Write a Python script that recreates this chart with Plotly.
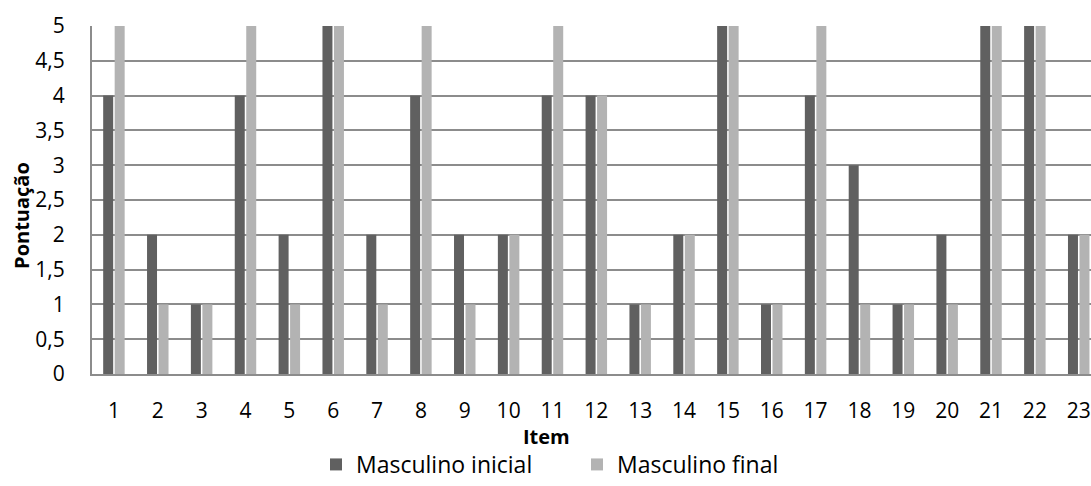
import plotly.graph_objects as go

# Item scores, male group, start vs end
items = [str(i) for i in range(1, 24)]
masculino_inicial = [4, 2, 1, 4, 2, 5, 2, 4, 2, 2, 4, 4, 1, 2, 5, 1, 4, 3, 1, 2, 5, 5, 2]
masculino_final = [5, 1, 1, 5, 1, 5, 1, 5, 1, 2, 5, 4, 1, 2, 5, 1, 5, 1, 1, 1, 5, 5, 2]
y_ticks = [0, 0.5, 1, 1.5, 2, 2.5, 3, 3.5, 4, 4.5, 5]
y_tick_text = ["0", "0,5", "1", "1,5", "2", "2,5", "3", "3,5", "4", "4,5", "5"]

FONT = "'Open Sans', Lato, sans-serif"
FS = 21
GRID = "#8c8c8c"

# plot-area geometry in pixels
W, H = 1091, 486
L, T, B = 92, 26, 110
PW, PH = W - L, H - T - B


def px_x(x):
    return (x - L) / PW


def px_y(y):
    return (H - B - y) / PH


fig = go.Figure()
fig.add_trace(go.Bar(x=items, y=masculino_inicial, name="Masculino inicial",
                     marker=dict(color="#606060", line=dict(width=0))))
fig.add_trace(go.Bar(x=items, y=masculino_final, name="Masculino final",
                     marker=dict(color="#b3b3b3", line=dict(width=0))))

fig.update_layout(
    width=W, height=H,
    margin=dict(l=L, r=0, t=T, b=B),
    plot_bgcolor="white", paper_bgcolor="white",
    barmode="group", bargap=0.476, bargroupgap=0.13,
    font=dict(family=FONT, size=FS, color="#000000"),
    showlegend=True,
    legend=dict(orientation="h", x=px_x(316), xanchor="left",
                y=px_y(467), yanchor="middle",
                font=dict(size=FS + 2), entrywidth=216, traceorder="normal"),
    xaxis=dict(type="category", range=[-0.5, 22.28], showgrid=False,
               showline=True, linecolor=GRID, linewidth=2, ticks="",
               ticklabelstandoff=17, tickfont=dict(size=FS)),
    yaxis=dict(range=[0, 5], tickvals=y_ticks, ticktext=y_tick_text,
               showgrid=True, gridcolor=GRID, gridwidth=2,
               showline=True, linecolor=GRID, linewidth=2, ticks="",
               ticklabelstandoff=21, tickfont=dict(size=FS), zeroline=False),
    annotations=[
        dict(text="<b>Item</b>", xref="paper", yref="paper",
             x=px_x(546), y=px_y(439), xanchor="center", yanchor="middle",
             showarrow=False, font=dict(size=FS - 1)),
        dict(text="<b>Pontuação</b>", xref="paper", yref="paper",
             x=px_x(22), y=px_y(217), xanchor="center", yanchor="middle",
             textangle=-90, showarrow=False, font=dict(size=FS - 1)),
    ],
)

fig.write_html("out.html")
